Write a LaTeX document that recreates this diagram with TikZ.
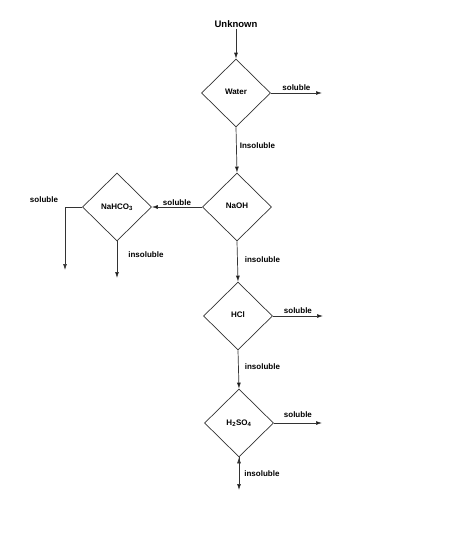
\documentclass[tikz,border=0pt]{standalone}
\usepackage{fontspec}
\setmainfont{Liberation Sans}
\usetikzlibrary{shapes.geometric, arrows.meta}
\tikzset{every picture/.style={line width=0.7pt}}

\begin{document}
\begin{tikzpicture}[x=1pt,y=-1pt,>={Latex[length=6pt,width=4pt]},
        every node/.style={font=\bfseries\fontsize{8}{9}\selectfont, inner sep=1pt},
        test/.style={diamond, draw=black!80, inner sep=0pt, minimum width=69pt, minimum height=68pt},
        flow/.style={->, draw=black!80}]
        \useasboundingbox (0,0) rectangle (474,538);
        \node[font=\bfseries\fontsize{9.5}{11}\selectfont] (unk) at (236,24) {Unknown};
        \node[test] (water) at (236,93) {\raisebox{3pt}{Water}};
        \node[test] (naoh) at (237,207) {\raisebox{2pt}{NaOH}};
        \node[test] (nahco) at (117,207) {NaHCO\textsubscript{3}};
        \node[test] (hcl) at (238,316) {\raisebox{2pt}{HCl}};
        \node[test] (hso) at (239,423) {H\textsubscript{2}SO\textsubscript{4}};
        \coordinate (watersol) at (322,93);
        \coordinate (nahcosol) at (65,270);
        \coordinate (nahcoins) at (117,278);
        \coordinate (hclsol) at (323,316);
        \coordinate (hsosol) at (322,423);
        \coordinate (hsoins) at (239,490);
        \node (nahcosoltxt) at (44,200) {soluble};
        \draw[flow]
            (unk) edge (water.north)
            (water.east) edge node[above, yshift=1pt]{soluble} (watersol)
            (water.south) edge node[right, xshift=2pt, yshift=4pt]{Insoluble} (naoh.north)
            (naoh.west) edge node[above]{soluble} (nahco.east)
            (naoh.south) edge node[right, xshift=6pt, yshift=2pt]{insoluble} (hcl.north)
            (nahco.south) edge node[right, xshift=10pt, yshift=5pt]{insoluble} (nahcoins)
            (hcl.east) edge node[above, yshift=1pt]{soluble} (hclsol)
            (hcl.south) edge node[right, xshift=5pt, yshift=3pt]{insoluble} (hso.north)
            (hso.east) edge node[above, yshift=4pt]{soluble} (hsosol)
            (hso.south) edge node[right, xshift=4pt]{insoluble} (hsoins)
            ;
        \draw[flow] (nahco.west) -| (nahcosol);
    \end{tikzpicture}
\end{document}
